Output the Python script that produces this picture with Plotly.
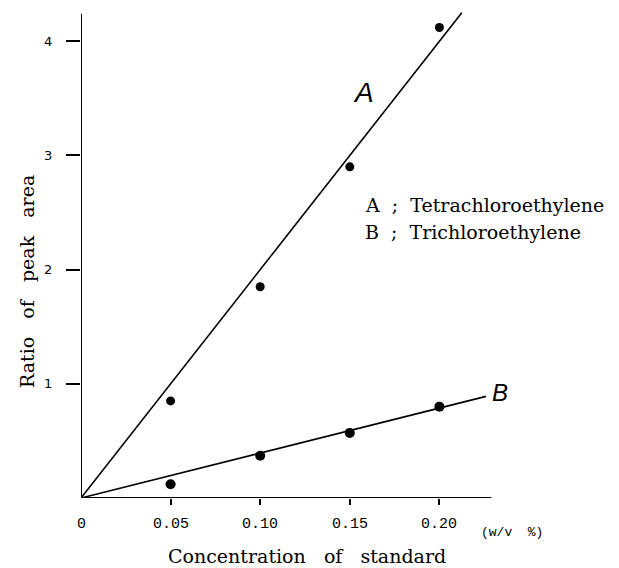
import plotly.graph_objects as go

# Calibration data: peak-area ratio vs. concentration of standard (w/v %)
conc = [0.05, 0.10, 0.15, 0.20]
ratio_a = [0.85, 1.85, 2.90, 4.12]   # A: Tetrachloroethylene
ratio_b = [0.12, 0.37, 0.57, 0.80]   # B: Trichloroethylene

# Fitted calibration lines through the origin (endpoints)
line_a_x = [0.0, 0.2125]
line_a_y = [0.0, 4.25]
line_b_x = [0.0, 0.226]
line_b_y = [0.0, 0.89]

x_tickvals = [0.0, 0.05, 0.10, 0.15, 0.20]
x_ticktext = ["0", "0.05", "0.10", "0.15", "0.20"]
y_tickvals = [1, 2, 3, 4]
y_ticktext = ["1", "2", "3", "4"]

serif = "DejaVu Serif"
mono = "Liberation Mono"

W, H = 619, 568
L, R, T, B = 81, 90, 7, 70
plot_w = W - L - R
plot_h = H - T - B


def px(x):
    """Pixel column -> paper x."""
    return (x - L) / plot_w


def py(y):
    """Pixel row -> paper y."""
    return 1 - (y - T) / plot_h


fig = go.Figure()
fig.add_trace(go.Scatter(x=line_a_x, y=line_a_y, mode="lines",
                         line=dict(color="black", width=1.6),
                         showlegend=False, cliponaxis=False))
fig.add_trace(go.Scatter(x=line_b_x, y=line_b_y, mode="lines",
                         line=dict(color="black", width=1.6),
                         showlegend=False, cliponaxis=False))
fig.add_trace(go.Scatter(x=conc, y=ratio_a, mode="markers",
                         marker=dict(color="black", size=9),
                         showlegend=False, cliponaxis=False))
fig.add_trace(go.Scatter(x=conc, y=ratio_b, mode="markers",
                         marker=dict(color="black", size=10),
                         showlegend=False, cliponaxis=False))

# Axis lines drawn as shapes so they stop short of the full plot area
fig.add_shape(type="line", x0=0, x1=0.229, y0=0, y1=0, xref="x", yref="y",
              line=dict(color="black", width=2))
fig.add_shape(type="line", x0=0, x1=0, y0=0, y1=4.24, xref="x", yref="y",
              line=dict(color="black", width=2))

# Tick labels
for v, t in zip(x_tickvals, x_ticktext):
    fig.add_annotation(x=v, y=py(524), xref="x", yref="paper", text=t, showarrow=False,
                       xanchor="center", yanchor="middle",
                       font=dict(family=mono, size=15, color="black"))
for v, t in zip(y_tickvals, y_ticktext):
    fig.add_annotation(x=px(48), y=v, xref="paper", yref="y", text=t, showarrow=False,
                       xanchor="center", yanchor="middle",
                       font=dict(family="DejaVu Sans", size=13, color="black"))

# Curve labels
fig.add_annotation(x=0.1575, y=3.55, text="A", showarrow=False,
                   xanchor="center", yanchor="middle",
                   font=dict(family="Liberation Sans", size=28, color="black", style="italic"))
fig.add_annotation(x=0.2338, y=0.92, text="B", showarrow=False,
                   xanchor="center", yanchor="middle",
                   font=dict(family="Liberation Sans", size=24, color="black", style="italic"))

# Key
fig.add_annotation(x=px(363), y=py(205), xref="paper", yref="paper",
                   text="A  ;  Tetrachloroethylene",
                   showarrow=False, xanchor="left", yanchor="middle",
                   font=dict(family=serif, size=19, color="black"))
fig.add_annotation(x=px(363), y=py(232), xref="paper", yref="paper",
                   text="B  ;  Trichloroethylene",
                   showarrow=False, xanchor="left", yanchor="middle",
                   font=dict(family=serif, size=19, color="black"))

# Axis titles
fig.add_annotation(x=px(307), y=py(556), xref="paper", yref="paper",
                   text="Concentration   of   standard", showarrow=False,
                   xanchor="center", yanchor="middle",
                   font=dict(family=serif, size=19, color="black"))
fig.add_annotation(x=px(512), y=py(532), xref="paper", yref="paper",
                   text="(w/v  %)", showarrow=False,
                   xanchor="center", yanchor="middle",
                   font=dict(family=mono, size=13, color="black"))
fig.add_annotation(x=px(27), y=py(282), xref="paper", yref="paper",
                   text="Ratio   of   peak   area", showarrow=False, textangle=-90,
                   xanchor="center", yanchor="middle",
                   font=dict(family=serif, size=19, color="black"))

fig.update_layout(
    width=W, height=H,
    margin=dict(l=L, r=R, t=T, b=B),
    paper_bgcolor="white", plot_bgcolor="white",
    showlegend=False,
    xaxis=dict(range=[0, 0.25], showgrid=False, zeroline=False, showline=False,
               tickvals=x_tickvals[1:], showticklabels=False,
               ticks="outside", ticklen=6, tickwidth=2, tickcolor="black"),
    yaxis=dict(range=[0, 4.3], showgrid=False, zeroline=False, showline=False,
               tickvals=y_tickvals, showticklabels=False,
               ticks="outside", ticklen=14, tickwidth=2, tickcolor="black"),
)

fig.write_html("out.html")
